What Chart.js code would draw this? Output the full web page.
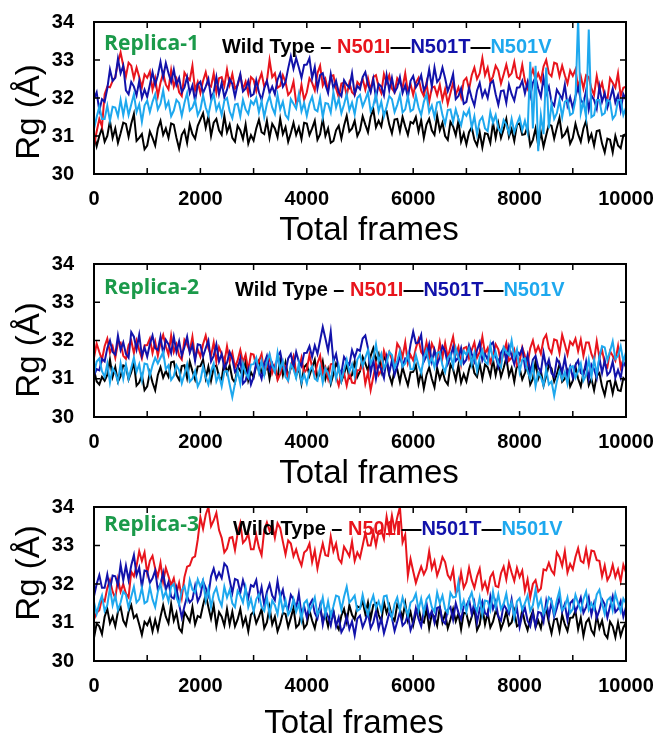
<!DOCTYPE html>
<html>
<head>
<meta charset="utf-8">
<script src="https://cdn.jsdelivr.net/npm/chart.js@4.4.1/dist/chart.umd.min.js"></script>
<style>
  body { margin: 0; background: #fff; overflow: hidden; }
  #wrap { position: relative; width: 659px; height: 737px; overflow: hidden; }
  #wrap canvas { position: absolute; left: 0; }
</style>
</head>
<body>
<div id="wrap">
  <canvas id="rep1" width="672" height="250"></canvas>
  <canvas id="rep2" width="672" height="252"></canvas>
  <canvas id="rep3" width="672" height="258"></canvas>
</div>
<script>
// frame axis: one sample every 50 frames
var frames = [];
for (var f = 0; f <= 10000; f += 50) frames.push(f);

var seriesNames = ['Wild Type', 'N501I', 'N501T', 'N501V'];
var seriesColors = ['#000000', '#e8141c', '#1212aa', '#1ea8ee'];
var xTickLabels = [0, 2000, 4000, 6000, 8000, 10000];
var yTickLabels = [30, 31, 32, 33, 34];

// ---------- Replica-1 ----------
var rep1WildType = [
  31.03,30.73,31.0,31.2,30.85,31.0,31.4,30.95,31.2,30.82,31.07,31.35,31.32,30.98,31.32,31.58,30.87,30.95,31.05,30.65,
  30.75,31.12,30.95,30.75,31.2,31.4,31.03,31.2,30.95,31.33,31.3,30.95,30.67,31.03,31.15,30.82,31.3,31.05,30.93,31.27,
  31.43,31.6,31.22,31.52,31.0,31.35,31.45,31.15,31.03,31.53,31.1,31.3,30.95,30.85,31.27,31.15,30.92,31.3,30.8,31.02,
  30.88,31.2,31.43,31.1,31.05,31.4,30.95,31.32,31.2,30.97,31.45,31.05,31.23,30.85,31.08,31.35,31.03,31.23,30.92,31.35,
  31.33,31.03,31.2,31.4,30.9,31.05,31.45,31.0,31.2,30.82,30.87,31.15,31.27,30.93,31.27,31.53,31.12,31.2,31.4,31.0,
  31.15,31.52,31.3,31.1,31.5,31.7,31.23,31.4,31.25,31.63,31.65,31.3,31.07,31.43,31.45,31.12,31.5,31.25,31.03,31.37,
  31.33,31.5,31.12,31.42,30.95,31.3,31.45,31.15,31.03,31.53,31.15,31.35,31.0,30.9,31.37,31.25,31.02,31.4,30.85,31.07,
  30.78,31.1,31.23,30.9,30.75,31.1,30.7,31.07,31.05,30.82,31.35,30.95,31.33,30.95,31.18,31.45,30.98,31.18,30.87,31.3,
  31.33,31.03,31.05,31.25,30.75,30.9,31.2,30.75,31.1,30.72,31.02,31.3,31.27,30.93,31.22,31.48,30.97,31.05,31.2,30.8,
  30.95,31.32,31.05,30.85,31.2,31.4,30.88,31.05,30.75,31.13,31.15,30.8,30.57,30.93,30.9,30.57,31.0,30.75,30.68,31.02,
  31.05
];
var rep1N501I = [
  30.75,31.12,31.45,31.25,32.1,32.3,32.28,32.45,32.55,32.93,33.2,32.85,32.57,32.93,32.85,32.52,32.8,32.55,32.28,32.62,
  32.53,32.7,32.22,32.52,32.05,32.4,32.65,32.35,32.23,32.73,32.3,32.5,32.15,32.05,32.67,32.55,32.47,32.85,32.2,32.42,
  32.13,32.45,32.68,32.35,32.3,32.65,32.15,32.52,32.55,32.32,32.75,32.35,32.63,32.25,32.33,32.6,32.23,32.43,32.12,32.55,
  32.48,32.18,32.45,32.65,32.3,32.45,33.0,32.55,32.65,32.27,32.32,32.6,32.42,32.08,32.17,32.43,31.87,31.95,32.35,31.95,
  32.15,32.52,32.4,32.2,32.65,32.85,32.33,32.5,32.2,32.58,32.6,32.25,32.02,32.38,32.4,32.07,32.4,32.15,32.08,32.42,
  32.33,32.5,32.22,32.52,32.2,32.55,32.6,32.3,32.13,32.63,32.4,32.6,32.25,32.15,32.52,32.4,32.27,32.65,32.15,32.37,
  32.08,32.4,32.53,32.2,32.05,32.4,31.9,32.27,32.3,32.07,32.35,31.95,32.23,31.85,32.13,32.4,32.08,32.28,32.02,32.45,
  32.53,32.23,32.6,32.8,32.5,32.65,33.05,32.6,32.8,32.42,32.57,32.85,32.72,32.38,32.62,32.88,32.57,32.65,32.95,32.55,
  32.5,32.87,32.45,32.25,32.55,32.75,32.48,32.65,32.45,32.83,33.0,32.65,32.57,32.93,32.9,32.57,32.85,32.6,32.38,32.72,
  32.58,32.75,32.27,32.57,32.25,32.6,32.55,32.25,32.08,32.58,32.2,32.4,32.05,31.95,32.52,32.4,32.27,32.65,32.05,32.27,
  32.3
];
var rep1N501T = [
  31.98,32.15,31.67,31.97,31.9,32.25,32.75,32.45,32.53,33.03,32.65,32.85,32.2,32.1,32.42,32.3,32.07,32.45,32.0,32.22,
  32.03,32.35,32.68,32.35,32.6,32.95,32.55,32.92,32.65,32.42,32.75,32.35,32.53,32.15,32.28,32.55,32.13,32.33,31.92,32.35,
  32.43,32.13,32.3,32.5,32.0,32.15,32.55,32.1,32.4,32.02,32.22,32.5,32.37,32.03,32.37,32.63,32.17,32.25,32.45,32.05,
  32.1,32.47,32.15,31.95,32.25,32.45,32.13,32.3,32.1,32.48,32.65,32.3,32.42,32.78,33.1,32.77,33.05,32.8,32.53,32.87,
  32.88,33.05,32.52,32.82,32.25,32.6,32.65,32.35,32.13,32.63,32.25,32.45,32.15,32.05,32.47,32.35,32.27,32.65,32.1,32.32,
  32.23,32.55,32.68,32.35,32.15,32.5,32.0,32.37,32.3,32.07,32.6,32.2,32.53,32.15,32.28,32.55,32.13,32.33,32.02,32.45,
  32.58,32.28,32.4,32.6,32.2,32.35,32.75,32.3,32.8,32.42,32.52,32.8,32.52,32.18,32.37,32.63,31.97,32.05,32.25,31.85,
  31.9,32.27,32.0,31.8,32.2,32.4,32.03,32.2,32.0,32.38,32.45,32.1,31.82,32.18,32.2,31.87,32.35,32.1,31.93,32.27,
  32.28,32.45,32.12,32.42,32.05,32.4,32.55,32.25,32.03,32.53,32.1,32.3,31.9,31.8,32.22,32.1,31.97,32.35,31.8,32.02,
  31.73,32.05,32.28,31.95,31.85,32.2,31.7,32.07,31.95,31.72,32.3,31.9,32.13,31.75,31.98,32.25,31.88,32.08,31.67,32.1,
  31.95
];
var rep1N501V = [
  31.18,31.5,31.78,31.45,31.45,31.8,31.4,31.77,31.75,31.52,31.95,31.55,31.93,31.55,31.83,32.1,31.63,31.83,31.37,31.8,
  31.93,31.63,31.9,32.1,31.7,31.85,32.2,31.75,31.9,31.52,31.67,31.95,31.87,31.53,31.87,32.13,31.67,31.75,31.95,31.55,
  31.7,32.07,31.75,31.55,31.9,32.1,31.68,31.85,31.55,31.93,32.0,31.65,31.47,31.83,31.85,31.52,31.95,31.7,31.58,31.92,
  31.83,32.0,31.62,31.92,31.5,31.85,32.05,31.75,31.58,32.08,31.7,31.9,31.55,31.45,31.97,31.85,31.72,32.1,31.65,31.87,
  31.53,31.85,32.03,31.7,31.65,32.0,31.5,31.87,31.85,31.62,32.15,31.75,31.98,31.6,31.83,32.1,31.68,31.88,31.57,32.0,
  32.08,31.78,31.95,32.15,31.65,31.8,32.1,31.65,31.9,31.52,31.77,32.05,31.97,31.63,31.82,32.08,31.62,31.7,32.05,31.65,
  31.7,32.07,31.75,31.55,31.9,32.1,31.63,31.8,31.5,31.88,31.9,31.55,31.32,31.68,31.7,31.37,31.7,31.45,31.28,31.62,
  31.53,31.7,31.22,31.52,31.05,31.4,31.5,31.2,31.13,31.63,31.35,31.55,31.2,31.1,31.42,31.3,31.07,31.45,31.1,31.32,
  31.5,31.15,31.4,31.1,32.95,31.2,32.85,30.6,31.55,31.05,32.8,31.2,31.85,31.45,31.6,31.95,31.5,31.9,31.95,31.55,
  31.6,31.95,34.1,31.6,31.9,31.5,33.8,31.5,31.55,31.95,31.95,31.55,31.6,31.95,31.9,31.45,31.55,31.95,31.95,31.55,
  31.75
];

// ---------- Replica-2 ----------
var rep2WildType = [
  31.23,30.93,30.85,31.05,30.95,31.1,31.5,31.05,31.3,30.92,31.07,31.35,31.32,30.98,31.17,31.43,30.82,30.9,31.1,30.7,
  30.8,31.17,30.9,30.7,31.1,31.3,31.03,31.2,31.05,31.43,31.45,31.1,30.97,31.33,31.35,31.02,31.45,31.2,30.98,31.32,
  31.33,31.5,31.02,31.32,30.95,31.3,31.35,31.05,30.98,31.48,31.15,31.35,31.0,30.9,31.32,31.2,31.07,31.45,30.95,31.17,
  31.03,31.35,31.48,31.15,31.1,31.45,31.0,31.37,31.25,31.02,31.5,31.1,31.43,31.05,31.28,31.55,31.08,31.28,30.87,31.3,
  31.38,31.08,31.3,31.5,31.0,31.15,31.45,31.0,31.25,30.87,31.12,31.4,31.27,30.93,31.12,31.38,31.02,31.1,31.45,31.05,
  31.2,31.57,31.4,31.2,31.6,31.8,31.48,31.65,31.2,31.58,31.45,31.1,30.87,31.23,31.25,30.92,31.3,31.05,30.83,31.17,
  31.18,31.35,30.87,31.17,30.75,31.1,31.3,31.0,30.78,31.28,31.0,31.2,30.95,30.85,31.37,31.25,30.97,31.35,30.9,31.12,
  30.93,31.25,31.48,31.15,31.05,31.4,31.0,31.37,31.3,31.07,31.5,31.1,31.43,31.05,31.28,31.55,31.08,31.28,30.92,31.35,
  31.28,30.98,31.15,31.35,30.85,31.0,31.45,31.0,31.2,30.82,31.07,31.35,31.27,30.93,31.12,31.38,30.92,31.0,31.2,30.8,
  30.95,31.32,31.0,30.8,31.15,31.35,30.83,31.0,30.7,31.08,31.15,30.8,30.57,30.93,30.95,30.62,30.95,30.7,30.68,31.02,
  30.95
];
var rep2N501I = [
  31.55,31.92,31.7,31.5,31.85,32.05,31.68,31.85,31.55,31.93,31.95,31.6,31.52,31.88,32.0,31.67,32.0,31.75,31.53,31.87,
  31.88,32.05,31.67,31.97,31.6,31.95,32.15,31.85,31.63,32.13,31.7,31.9,31.6,31.5,32.02,31.9,31.72,32.1,31.55,31.77,
  31.58,31.9,32.13,31.8,31.6,31.95,31.45,31.82,31.65,31.42,31.85,31.45,31.68,31.3,31.48,31.75,31.43,31.63,31.22,31.65,
  31.63,31.33,31.45,31.65,31.15,31.3,31.6,31.15,31.35,30.97,31.12,31.4,31.32,30.98,31.32,31.58,31.17,31.25,31.55,31.15,
  31.25,31.62,31.3,31.1,31.4,31.6,31.13,31.3,31.0,31.38,31.4,31.05,30.82,31.18,31.15,30.82,31.15,30.9,30.88,31.22,
  31.23,31.4,30.87,31.17,30.7,31.05,31.4,31.1,31.23,31.73,31.5,31.7,31.5,31.4,31.92,31.8,31.57,31.95,31.4,31.62,
  31.48,31.8,32.03,31.7,31.6,31.95,31.55,31.92,31.75,31.52,31.95,31.55,31.93,31.55,31.83,32.1,31.63,31.83,31.37,31.8,
  31.83,31.53,31.75,31.95,31.55,31.7,32.1,31.65,31.8,31.42,31.62,31.9,31.77,31.43,31.67,31.93,31.47,31.55,31.75,31.35,
  31.45,31.82,31.6,31.4,31.8,32.0,31.68,31.85,31.65,32.03,32.15,31.8,31.67,32.03,32.0,31.67,32.15,31.9,31.63,31.97,
  31.88,32.05,31.72,32.02,31.6,31.95,31.95,31.65,31.48,31.98,31.55,31.75,31.4,31.3,31.72,31.6,31.47,31.85,31.3,31.52,
  31.5
];
var rep2N501T = [
  31.08,31.25,31.22,31.52,31.45,31.8,32.0,31.7,31.63,32.13,31.75,31.95,31.65,31.55,32.22,32.1,31.77,32.15,31.6,31.82,
  31.58,31.9,32.13,31.8,31.75,32.1,31.65,32.02,31.9,31.67,32.1,31.7,31.98,31.6,31.83,32.1,31.68,31.88,31.47,31.9,
  31.88,31.58,31.8,32.0,31.45,31.6,31.9,31.45,31.65,31.27,31.42,31.7,31.52,31.18,31.27,31.53,30.87,30.95,31.25,30.85,
  31.05,31.42,31.2,31.0,31.4,31.6,31.23,31.4,31.2,31.58,31.7,31.35,31.17,31.53,31.65,31.32,31.7,31.45,31.33,31.67,
  31.68,31.85,31.57,31.87,31.65,32.0,32.35,32.05,31.73,32.23,31.45,31.65,31.25,31.15,31.57,31.45,31.37,31.75,31.55,31.77,
  31.73,32.05,32.13,31.8,31.15,31.5,31.0,31.37,31.25,31.02,31.55,31.15,31.48,31.1,31.33,31.6,31.33,31.53,31.47,31.9,
  32.23,31.93,31.95,32.15,31.45,31.6,31.9,31.45,31.75,31.37,31.57,31.85,31.72,31.38,31.57,31.83,31.47,31.55,31.8,31.4,
  31.5,31.87,31.65,31.45,31.75,31.95,31.48,31.65,31.5,31.88,31.95,31.6,31.32,31.68,31.8,31.47,31.85,31.6,31.38,31.72,
  31.63,31.8,31.32,31.62,31.15,31.5,31.6,31.3,31.18,31.68,31.3,31.5,31.15,31.05,31.52,31.4,31.17,31.55,31.1,31.32,
  31.03,31.35,31.48,31.15,31.1,31.45,31.0,31.37,31.25,31.02,31.55,31.15,31.48,31.1,31.18,31.45,31.03,31.23,31.02,31.45,
  31.3
];
var rep2N501V = [
  31.13,31.45,31.53,31.2,31.05,31.4,30.9,31.27,31.15,30.92,31.4,31.0,31.38,31.0,31.28,31.55,31.18,31.38,30.97,31.4,
  31.38,31.08,31.35,31.55,31.4,31.55,31.7,31.25,31.35,30.97,31.07,31.35,31.22,30.88,31.12,31.38,30.92,31.0,31.2,30.8,
  30.95,31.32,31.05,30.85,31.2,31.4,30.93,31.1,30.8,31.18,31.2,30.85,30.52,30.88,31.2,30.87,31.4,31.15,31.03,31.37,
  31.38,31.55,31.17,31.47,31.1,31.45,31.65,31.35,31.18,31.68,31.25,31.45,31.05,30.95,31.37,31.25,31.02,31.4,30.9,31.12,
  30.88,31.2,31.33,31.0,30.95,31.3,30.9,31.27,31.15,30.92,31.4,31.0,31.33,30.95,31.23,31.5,31.18,31.38,31.07,31.5,
  31.63,31.33,31.55,31.75,31.4,31.55,31.9,31.45,31.65,31.27,31.42,31.7,31.62,31.28,31.47,31.73,31.32,31.4,31.65,31.25,
  31.25,31.62,31.35,31.15,31.55,31.75,31.38,31.55,31.3,31.68,31.7,31.35,31.17,31.53,31.65,31.32,31.8,31.55,31.38,31.72,
  31.63,31.8,31.37,31.67,31.2,31.55,31.75,31.45,31.38,31.88,31.5,31.7,31.4,31.3,31.82,31.7,31.62,32.0,31.55,31.77,
  31.18,31.5,31.53,31.2,31.0,31.35,30.8,31.17,31.05,30.82,31.25,30.85,30.93,30.55,30.93,31.2,30.98,31.18,30.87,31.3,
  31.33,31.03,31.2,31.4,30.95,31.1,31.5,31.05,31.5,31.12,31.57,31.85,31.82,31.48,31.72,31.98,31.52,31.6,31.85,31.45,
  31.7
];

// ---------- Replica-3 ----------
var rep3WildType = [
  30.6,30.97,30.9,30.7,31.15,31.35,30.98,31.15,30.9,31.28,31.4,31.05,30.92,31.28,31.45,31.12,31.2,30.95,30.68,31.02,
  30.93,31.1,30.77,31.07,30.8,31.15,31.45,31.15,30.98,31.48,31.05,31.25,30.85,30.75,31.27,31.15,31.02,31.4,30.95,31.17,
  31.13,31.45,31.73,31.4,31.1,31.45,30.9,31.27,31.15,30.92,31.35,30.95,31.28,30.9,31.08,31.35,30.93,31.13,30.77,31.2,
  31.28,30.98,31.15,31.35,30.85,31.0,31.4,30.95,31.15,30.77,30.97,31.25,31.22,30.88,31.12,31.38,30.87,30.95,31.25,30.85,
  30.95,31.32,31.05,30.85,31.2,31.4,31.03,31.2,30.9,31.28,31.3,30.95,30.82,31.18,31.35,31.02,31.45,31.2,31.08,31.42,
  31.38,31.55,31.22,31.52,31.1,31.45,31.5,31.2,31.03,31.53,31.25,31.45,31.15,31.05,31.47,31.35,31.12,31.5,31.05,31.27,
  30.93,31.25,31.38,31.05,31.0,31.35,30.85,31.22,31.15,30.92,31.4,31.0,31.23,30.85,31.08,31.35,31.03,31.23,30.82,31.25,
  31.23,30.93,31.15,31.35,30.8,30.95,31.4,30.95,31.25,30.87,31.02,31.3,31.17,30.83,31.02,31.28,30.92,31.0,31.3,30.9,
  30.95,31.32,31.0,30.8,31.1,31.3,30.88,31.05,30.85,31.23,31.35,31.0,30.72,31.08,31.1,30.77,31.2,30.95,30.78,31.12,
  31.13,31.3,30.82,31.12,30.65,31.0,31.1,30.8,30.68,31.18,30.85,31.05,30.7,30.6,31.02,30.9,30.62,31.0,30.65,30.87,
  31.0
];
var rep3N501I = [
  31.08,31.25,31.32,31.62,31.55,31.9,32.1,31.8,31.63,32.13,31.8,32.0,31.75,31.65,32.32,32.2,32.47,32.85,32.6,32.82,
  32.28,32.6,32.73,32.4,32.2,32.55,32.05,32.42,32.2,31.97,32.15,31.75,32.03,31.65,32.18,32.45,32.48,32.68,32.72,33.15,
  33.73,33.43,33.8,34.0,33.5,33.65,33.85,33.4,33.2,32.82,32.92,33.2,33.22,32.88,33.32,33.58,33.07,33.15,33.3,32.9,
  32.9,33.27,32.95,32.75,33.4,33.6,33.38,33.55,33.2,33.58,33.45,33.1,32.77,33.13,33.05,32.72,32.9,32.65,32.48,32.82,
  32.88,33.05,32.57,32.87,32.4,32.75,33.05,32.75,32.73,33.23,32.85,33.05,32.65,32.55,32.97,32.85,32.72,33.1,32.6,32.82,
  32.68,33.0,33.33,33.0,33.0,33.35,33.0,33.37,33.4,33.17,33.75,33.35,33.78,33.4,33.73,34.0,33.08,33.28,32.22,32.65,
  32.33,32.03,32.25,32.45,32.25,32.4,32.85,32.4,32.6,32.22,32.42,32.7,32.57,32.23,32.12,32.38,31.77,31.85,32.3,31.9,
  32.05,32.42,32.1,31.9,32.2,32.4,31.88,32.05,31.8,32.18,32.3,31.95,31.92,32.28,32.45,32.12,32.55,32.3,32.08,32.42,
  32.18,32.35,31.82,32.12,31.65,32.0,32.1,31.8,31.88,32.38,32.35,32.55,32.35,32.25,32.82,32.7,32.47,32.85,32.3,32.52,
  32.38,32.7,32.93,32.6,32.55,32.9,32.5,32.87,32.85,32.62,32.6,32.2,32.48,32.1,32.23,32.5,32.18,32.38,32.07,32.5,
  32.3
];
var rep3N501T = [
  31.68,32.0,32.23,31.9,31.9,32.25,31.85,32.22,32.2,31.97,32.5,32.1,32.48,32.1,32.48,32.75,32.23,32.43,31.92,32.35,
  32.33,32.03,32.15,32.35,31.85,32.0,32.3,31.85,32.05,31.67,31.62,31.9,31.47,31.13,31.42,31.68,31.52,31.6,31.95,31.55,
  31.7,32.07,31.9,31.7,32.2,32.4,32.13,32.3,32.15,32.53,32.45,32.1,31.77,32.13,32.1,31.77,32.1,31.85,31.63,31.97,
  31.93,32.1,31.62,31.92,31.45,31.8,32.0,31.7,31.58,32.08,31.65,31.85,31.45,31.35,31.72,31.6,31.37,31.75,31.2,31.42,
  31.13,31.45,31.58,31.25,31.1,31.45,30.95,31.32,31.15,30.92,31.3,30.9,31.13,30.75,30.88,31.15,30.83,31.03,30.67,31.1,
  31.18,30.88,31.05,31.25,30.85,31.0,31.3,30.85,31.1,30.72,30.97,31.25,31.12,30.78,31.02,31.28,30.92,31.0,31.2,30.8,
  31.0,31.37,31.1,30.9,31.3,31.5,31.13,31.3,31.0,31.38,31.4,31.05,30.97,31.33,31.4,31.07,31.5,31.25,31.08,31.42,
  31.43,31.6,31.22,31.52,31.0,31.35,31.55,31.25,31.18,31.68,31.35,31.55,31.15,31.05,31.47,31.35,31.22,31.6,31.15,31.37,
  30.88,31.2,31.38,31.05,30.9,31.25,30.9,31.27,31.25,31.02,31.55,31.15,31.53,31.15,31.38,31.65,31.28,31.48,31.07,31.5,
  31.58,31.28,31.45,31.65,31.25,31.4,31.65,31.2,31.5,31.12,31.32,31.6,31.47,31.13,31.42,31.68,31.27,31.35,31.55,31.15,
  31.4
];
var rep3N501V = [
  31.53,31.23,31.5,31.7,31.3,31.45,31.9,31.45,31.7,31.32,31.52,31.8,31.72,31.38,31.67,31.93,31.52,31.6,31.9,31.5,
  31.55,31.92,31.6,31.4,31.8,32.0,31.63,31.8,31.55,31.93,32.0,31.65,31.47,31.83,31.95,31.62,32.1,31.85,31.78,32.12,
  31.93,32.1,31.57,31.87,31.4,31.75,31.9,31.6,31.43,31.93,31.65,31.85,31.5,31.4,31.82,31.7,31.52,31.9,31.4,31.62,
  31.28,31.6,31.73,31.4,31.3,31.65,31.2,31.57,31.45,31.22,31.7,31.3,31.58,31.2,31.33,31.6,31.28,31.48,31.07,31.5,
  31.58,31.28,31.45,31.65,31.2,31.35,31.65,31.2,31.55,31.17,31.42,31.7,31.67,31.33,31.67,31.93,31.52,31.6,31.7,31.3,
  31.35,31.72,31.4,31.2,31.5,31.7,31.38,31.55,31.3,31.68,31.7,31.35,31.12,31.48,31.65,31.32,31.65,31.4,31.18,31.52,
  31.58,31.75,31.32,31.62,31.25,31.6,31.7,31.4,31.28,31.78,31.5,31.7,31.35,31.25,31.77,31.65,31.67,32.05,31.35,31.57,
  31.28,31.6,31.78,31.45,31.3,31.65,31.2,31.57,31.55,31.32,31.8,31.4,31.73,31.35,31.48,31.75,31.33,31.53,31.12,31.55,
  31.63,31.33,31.5,31.7,31.3,31.45,31.85,31.4,31.6,31.22,31.37,31.65,31.57,31.23,31.57,31.83,31.32,31.4,31.65,31.25,
  31.35,31.72,31.5,31.3,31.6,31.8,31.33,31.5,31.35,31.73,31.85,31.5,31.22,31.58,31.65,31.32,31.75,31.5,31.28,31.62,
  31.5
];

var replicas = [
  { id: 'rep1', title: 'Replica-1', series: [rep1WildType, rep1N501I, rep1N501T, rep1N501V] },
  { id: 'rep2', title: 'Replica-2', series: [rep2WildType, rep2N501I, rep2N501T, rep2N501V] },
  { id: 'rep3', title: 'Replica-3', series: [rep3WildType, rep3N501I, rep3N501T, rep3N501V] }
];

// page positions of each panel; the canvas is shifted up by PAD_TOP so that
// Chart.js keeps its own room for the top tick label
var PAD_TOP = 26;
var panelLayout = {
  rep1: { top: 22,  bottom: 174, yTitleMid: 112, xTitleBase: 240, xTitleMid: 369, tagBase: 50,  keyBase: 53,  keyX: 222 },
  rep2: { top: 264, bottom: 417, yTitleMid: 350, xTitleBase: 483, xTitleMid: 369, tagBase: 294, keyBase: 296, keyX: 235 },
  rep3: { top: 507, bottom: 661, yTitleMid: 573, xTitleBase: 733, xTitleMid: 354, tagBase: 531, keyBase: 535, keyX: 233 }
};

var FONT = '"Liberation Sans", Arial, Helvetica, sans-serif';

// inward ticks on all four sides, the frame, titles and the in-plot key
var panelDecor = {
  id: 'panelDecor',
  afterDatasetsDraw: function(chart, args, opts) {
    var ctx = chart.ctx, a = chart.chartArea;
    var xs = chart.scales.x, ys = chart.scales.y;
    var off = opts.canvasTop;
    ctx.save();
    ctx.strokeStyle = '#000';
    ctx.lineWidth = 1.5;
    ctx.beginPath();
    xs.ticks.forEach(function(t) {
      var px = xs.getPixelForValue(t.value);
      ctx.moveTo(px, a.bottom); ctx.lineTo(px, a.bottom - 6);
      ctx.moveTo(px, a.top); ctx.lineTo(px, a.top + 6);
    });
    ys.ticks.forEach(function(t) {
      var py = ys.getPixelForValue(t.value);
      ctx.moveTo(a.left, py); ctx.lineTo(a.left + 6, py);
      ctx.moveTo(a.right, py); ctx.lineTo(a.right - 6, py);
    });
    ctx.stroke();
    ctx.lineWidth = 2;
    ctx.strokeRect(a.left, a.top, a.right - a.left, a.bottom - a.top);

    // axis titles
    ctx.fillStyle = '#000';
    ctx.font = '33px ' + FONT;
    ctx.textAlign = 'center';
    ctx.textBaseline = 'alphabetic';
    ctx.fillText('Total frames', opts.xTitleMid, opts.xTitleBase - off);
    ctx.save();
    ctx.translate(39, opts.yTitleMid - off);
    ctx.rotate(-Math.PI / 2);
    ctx.fillText('Rg (Å)', 0, 0);
    ctx.restore();

    // replica tag
    ctx.textAlign = 'left';
    ctx.fillStyle = '#1b9a4a';
    ctx.font = 'bold 22px "Open Sans", ' + FONT;
    ctx.fillText(opts.title, 104, opts.tagBase - off, 95);

    // key: Wild Type – N501I—N501T—N501V
    var parts = [
      [seriesNames[0] + ' \u2013 ', seriesColors[0]],
      [seriesNames[1], seriesColors[1]], ['\u2014', '#000'],
      [seriesNames[2], seriesColors[2]], ['\u2014', '#000'],
      [seriesNames[3], seriesColors[3]]
    ];
    ctx.font = 'bold 20px ' + FONT;
    var x = opts.keyX;
    parts.forEach(function(p) {
      ctx.fillStyle = p[1];
      ctx.fillText(p[0], x, opts.keyBase - off);
      x += ctx.measureText(p[0]).width;
    });
    ctx.restore();
  }
};

replicas.forEach(function(rep) {
  var lay = panelLayout[rep.id];
  var canvas = document.getElementById(rep.id);
  var canvasTop = lay.top - PAD_TOP;
  canvas.style.top = canvasTop + 'px';
  var H = canvas.height;
  var bottomRel = lay.bottom - canvasTop;
  var datasets = rep.series.map(function(vals, k) {
    return {
      label: seriesNames[k],
      data: frames.map(function(fr, i) { return { x: fr, y: vals[i] }; }),
      borderColor: seriesColors[k],
      borderWidth: 2,
      pointRadius: 0,
      tension: 0,
      order: 4 - k
    };
  });
  new Chart(canvas.getContext('2d'), {
    type: 'line',
    data: { datasets: datasets },
    options: {
      responsive: false,
      animation: false,
      events: [],
      layout: { padding: { left: 0, right: canvas.width - 626, top: PAD_TOP, bottom: 0 } },
      scales: {
        x: {
          type: 'linear', min: 0, max: 10000,
          grid: { display: false },
          border: { display: false },
          afterFit: function(s) { s.height = H - bottomRel; },
          ticks: {
            stepSize: 1000, autoSkip: false, maxRotation: 0, padding: 5,
            color: '#000', font: { family: FONT, size: 20, weight: 'bold' },
            callback: function(v) { return xTickLabels.indexOf(v) >= 0 ? String(v) : ''; }
          }
        },
        y: {
          min: 30, max: 34,
          grid: { display: false },
          border: { display: false },
          afterFit: function(s) { s.width = 94; },
          ticks: {
            stepSize: 0.5, padding: 12,
            color: '#000', font: { family: FONT, size: 20, weight: 'bold' },
            callback: function(v) { return yTickLabels.indexOf(v) >= 0 ? String(v) : ''; }
          }
        }
      },
      plugins: {
        legend: { display: false },
        tooltip: { enabled: false },
        panelDecor: {
          title: rep.title, canvasTop: canvasTop,
          xTitleMid: lay.xTitleMid, xTitleBase: lay.xTitleBase, yTitleMid: lay.yTitleMid,
          tagBase: lay.tagBase, keyBase: lay.keyBase, keyX: lay.keyX
        }
      }
    },
    plugins: [panelDecor]
  });
});
</script>
</body>
</html>
